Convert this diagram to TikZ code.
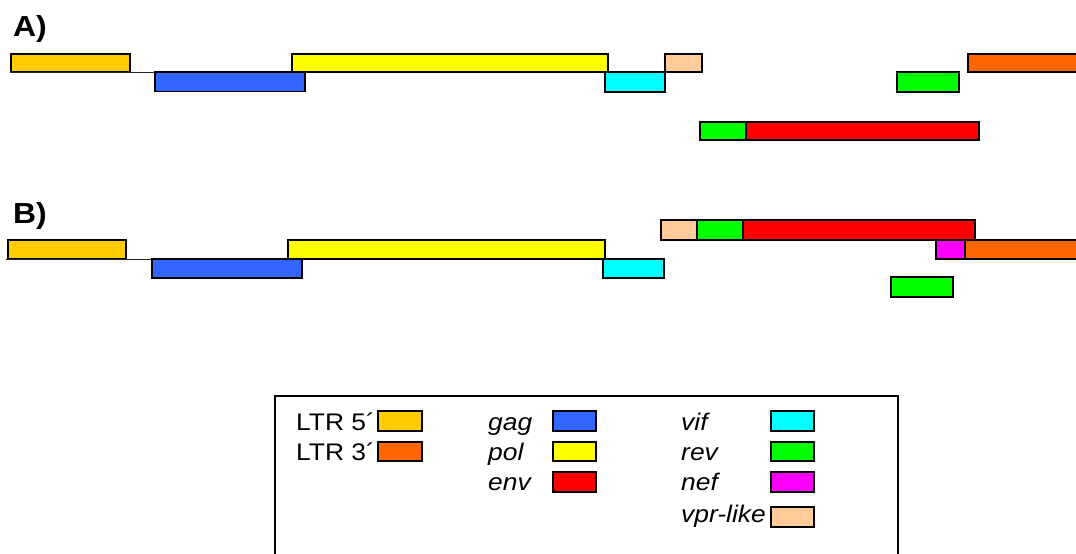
\documentclass[tikz,border=0pt]{standalone}
\usepackage{fontspec}
\setmainfont{Liberation Sans}[FakeStretch=1.1]

\definecolor{ltrfive}{HTML}{FFCC00}
\definecolor{ltrthree}{HTML}{FF6600}
\definecolor{gagcol}{HTML}{3366FF}
\definecolor{polcol}{HTML}{FFFF00}
\definecolor{envcol}{HTML}{FF0000}
\definecolor{vifcol}{HTML}{00FFFF}
\definecolor{revcol}{HTML}{00FF00}
\definecolor{nefcol}{HTML}{FF00FF}
\definecolor{vprcol}{HTML}{FFCC99}

% gene box: name, colour, x1, y1, x2, y2 (top-left / bottom-right corners)
\newcommand\genebox[6]{%
  \node[gene, fill=#2, minimum width={(#5-#3)*1pt}, minimum height={(#6-#4)*1pt}] (#1) at (#3,#4) {};}

\begin{document}
\begin{tikzpicture}[x=1pt,y=-1pt,
  gene/.style={draw=black, line width=1.8pt, inner sep=0pt, outer sep=0pt, anchor=north west},
  backbone/.style={draw=black!85, line width=1pt},
  panel/.style={font=\fontsize{29}{34}\selectfont\bfseries, anchor=base west, inner sep=0pt},
  legtext/.style={font=\fontsize{24}{28}\selectfont, anchor=base west, inner sep=0pt},
  legital/.style={legtext, font=\fontsize{24}{28}\selectfont\itshape},
  frame/.style={draw=black, line width=2pt, inner sep=0pt, anchor=north west}]

\useasboundingbox (0,0) rectangle (1076,554);
\clip (0,0) rectangle (1076,554);

% ---- panel A ----
\node[panel] (labA) at (13,36) {A)};
\coordinate (bbA) at (10,72);
\genebox{ltr5A}{ltrfive}{11}{54}{130}{72}
\genebox{vprA}{vprcol}{665}{54}{702}{72}
\draw[backbone] (bbA) -- (vprA.south west);
\genebox{gagA}{gagcol}{155}{72}{305}{91.5}
\genebox{polA}{polcol}{292}{54}{608}{72}
\genebox{vifA}{vifcol}{605}{72}{665}{92}
\genebox{vprA}{vprcol}{665}{54}{702}{72}
\genebox{revaA}{revcol}{700}{122}{746}{140}
\genebox{envA}{envcol}{746}{122}{979}{140}
\genebox{revbA}{revcol}{897}{72}{959}{92}
\genebox{ltr3A}{ltrthree}{968}{54}{1090}{72}

% ---- panel B ----
\node[panel] (labB) at (13,223) {B)};
\coordinate (bbB) at (6,259);
\genebox{ltr5B}{ltrfive}{8}{240}{126}{259}
\genebox{vifB}{vifcol}{603}{259}{664}{278}
\draw[backbone] (bbB) -- (vifB.north east);
\genebox{gagB}{gagcol}{152}{259}{302}{278}
\genebox{polB}{polcol}{288}{240}{605}{259}
\genebox{vifB}{vifcol}{603}{259}{664}{278}
\genebox{vprB}{vprcol}{661}{220}{697}{240}
\genebox{revaB}{revcol}{697}{220}{743}{240}
\genebox{envB}{envcol}{743}{220}{975}{240}
\genebox{nefB}{nefcol}{936}{240}{965}{259}
\genebox{ltr3B}{ltrthree}{965}{240}{1090}{259}
\genebox{revbB}{revcol}{891}{277}{953}{297}

% ---- legend ----
\node[frame, minimum width=623pt, minimum height=180pt] (legend) at (274,395) {};

\node[legtext] (tltr5) at (296,430) {LTR 5´};
\genebox{kltr5}{ltrfive}{378}{411}{422}{431}
\node[legtext] (tltr3) at (296,460) {LTR 3´};
\genebox{kltr3}{ltrthree}{378}{442}{422}{461}

\node[legital] (tgag) at (488,430) {gag};
\genebox{kgag}{gagcol}{553}{411}{596}{431}
\node[legital] (tpol) at (488,460) {pol};
\genebox{kpol}{polcol}{553}{442}{596}{461}
\node[legital] (tenv) at (488,490) {env};
\genebox{kenv}{envcol}{553}{472}{596}{492}

\node[legital] (tvif) at (681,430) {vif};
\genebox{kvif}{vifcol}{771}{411}{814}{431}
\node[legital] (trev) at (681,460) {rev};
\genebox{krev}{revcol}{771}{442}{814}{461}
\node[legital] (tnef) at (681,490) {nef};
\genebox{knef}{nefcol}{771}{472}{814}{492}
\node[legital] (tvpr) at (681,522) {vpr-like};
\genebox{kvpr}{vprcol}{771}{507}{814}{527}

\end{tikzpicture}
\end{document}
